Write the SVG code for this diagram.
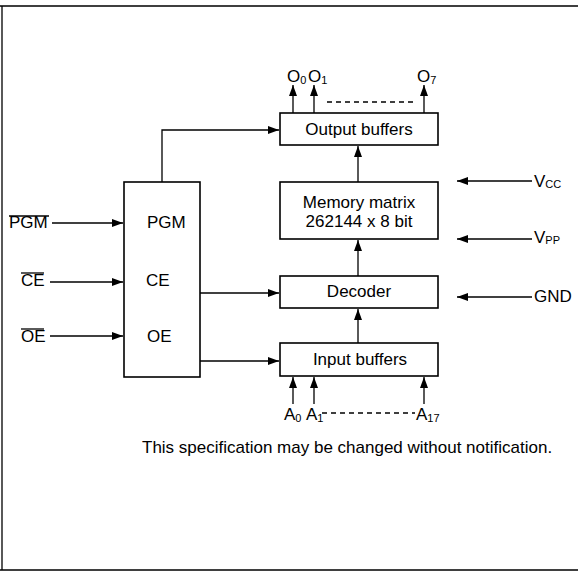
<svg xmlns="http://www.w3.org/2000/svg" width="578" height="572" viewBox="0 0 578 572">
<defs>
<marker id="ah" viewBox="0 0 11 8" refX="11" refY="4" markerWidth="11" markerHeight="8" markerUnits="userSpaceOnUse" orient="auto">
<path d="M0,0 L11,4 L0,8 Z" fill="#000"/>
</marker>
</defs>
<style>
.box{fill:#fff;stroke:#000;stroke-width:1.6}
.ln{fill:none;stroke:#000;stroke-width:1.3}
.ar{fill:none;stroke:#000;stroke-width:1.3;marker-end:url(#ah)}
.dash{fill:none;stroke:#000;stroke-width:1.3;stroke-dasharray:5 4}
text{font-family:"Liberation Sans",Arial,sans-serif;font-size:17px;fill:#000}
.c{text-anchor:middle}
.sub{font-size:11px}
</style>
<rect width="578" height="572" fill="#fff"/>
<g id="frame">
<path class="ln" d="M0,6 H578 M2,6 V570 M0,570 H578" stroke-width="1.6"/>
</g>
<g id="control">
<rect class="box" x="124" y="182" width="76" height="195"/>
<text x="147" y="228">PGM</text>
<text x="146" y="286">CE</text>
<text x="147" y="342">OE</text>
</g>
<g id="output-buffers">
<rect class="box" x="280" y="113" width="158" height="32"/>
<text class="c" x="359" y="135">Output buffers</text>
</g>
<g id="memory-matrix">
<rect class="box" x="280" y="182" width="158" height="57"/>
<text class="c" x="359" y="208">Memory matrix</text>
<text class="c" x="359" y="227">262144 x 8 bit</text>
</g>
<g id="decoder">
<rect class="box" x="280" y="276" width="158" height="32"/>
<text class="c" x="359" y="297">Decoder</text>
</g>
<g id="input-buffers">
<rect class="box" x="280" y="343" width="158" height="33"/>
<text class="c" x="360" y="365">Input buffers</text>
</g>
<g id="pgm-in">
<text x="9" y="228">PGM</text>
<line class="ln" x1="9" y1="216" x2="49" y2="216"/>
</g>
<g id="ce-in">
<text x="21" y="286">CE</text>
<line class="ln" x1="21" y1="273" x2="44" y2="273"/>
</g>
<g id="oe-in">
<text x="21" y="342">OE</text>
<line class="ln" x1="21" y1="329" x2="44" y2="329"/>
</g>
<g id="outputs">
<text x="287" y="82">O<tspan class="sub" dy="2">0</tspan></text>
<text x="308" y="82">O<tspan class="sub" dy="2">1</tspan></text>
<text x="417" y="82">O<tspan class="sub" dy="2">7</tspan></text>
</g>
<g id="addresses">
<text x="284" y="420">A<tspan class="sub" dy="2">0</tspan></text>
<text x="306" y="420">A<tspan class="sub" dy="2">1</tspan></text>
<text x="416" y="420">A<tspan class="sub" dy="2">17</tspan></text>
</g>
<g id="power">
<text x="534" y="187" font-size="16">V<tspan class="sub" dy="1">CC</tspan></text>
<text x="534" y="243" font-size="16">V<tspan class="sub" dy="1">PP</tspan></text>
<text x="534" y="302">GND</text>
</g>
<g id="connectors">
<line class="ar" x1="52" y1="223" x2="123" y2="223"/>
<line class="ar" x1="50" y1="282" x2="123" y2="282"/>
<line class="ar" x1="50" y1="336" x2="123" y2="336"/>
<polyline class="ar" points="162,182 162,130 279,130"/>
<line class="ar" x1="200" y1="293" x2="279" y2="293"/>
<line class="ar" x1="200" y1="361" x2="279" y2="361"/>
<line class="ar" x1="358" y1="182" x2="358" y2="146"/>
<line class="ar" x1="358" y1="276" x2="358" y2="240"/>
<line class="ar" x1="358" y1="343" x2="358" y2="309"/>
<line class="ar" x1="293" y1="113" x2="293" y2="85"/>
<line class="ar" x1="314" y1="113" x2="314" y2="85"/>
<line class="ar" x1="424" y1="113" x2="424" y2="85"/>
<line class="dash" x1="327" y1="102" x2="416" y2="102"/>
<line class="ar" x1="293" y1="404" x2="293" y2="377"/>
<line class="ar" x1="314" y1="404" x2="314" y2="377"/>
<line class="ar" x1="424" y1="404" x2="424" y2="377"/>
<line class="dash" x1="322" y1="413" x2="415" y2="413"/>
<line class="ar" x1="532" y1="181" x2="457" y2="181"/>
<line class="ar" x1="532" y1="239" x2="457" y2="239"/>
<line class="ar" x1="532" y1="297" x2="457" y2="297"/>
</g>
<text x="142" y="453" font-size="17.2">This specification may be changed without notification.</text>
</svg>
